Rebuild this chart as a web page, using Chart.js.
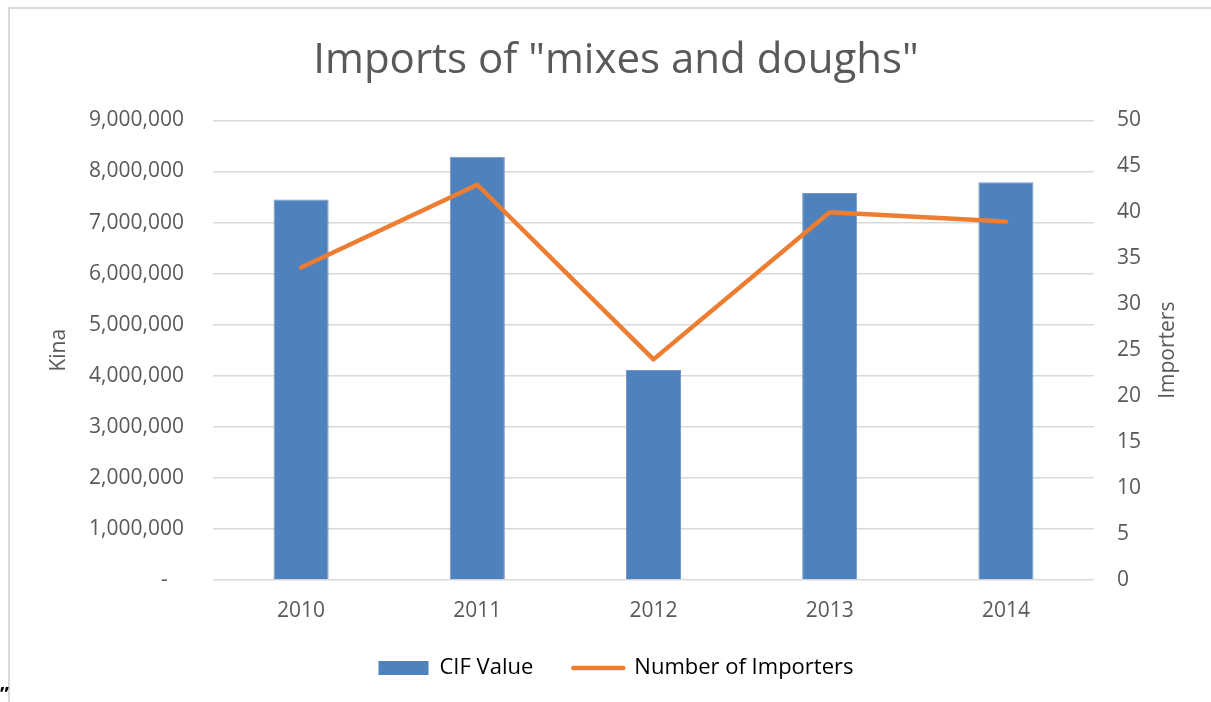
<!DOCTYPE html>
<html>
<head>
<meta charset="utf-8">
<script src="https://cdn.jsdelivr.net/npm/chart.js@4.4.1/dist/chart.umd.min.js"></script>
<style>
  html, body { margin: 0; padding: 0; background: #fff; }
  body { width: 1211px; height: 702px; position: relative; overflow: hidden; }
  #frame { position: absolute; left: 8px; top: 7px; right: 0; bottom: 0;
           border-left: 2px solid #d9d9d9; border-top: 2px solid #d9d9d9; }
  #chart { position: absolute; left: 0; top: 0; }
  #mark { position: absolute; left: 0; top: 680px; font: bold 20px "Open Sans", sans-serif; color: #000; }
</style>
</head>
<body>
<div id="frame"></div>
<canvas id="chart" width="1211" height="702"></canvas>
<span id="mark">”</span>
<script>
// dados do gráfico
const years = ['2010', '2011', '2012', '2013', '2014'];
const cifValue = [7450000, 8290000, 4110000, 7580000, 7790000];
const importers = [34, 43, 24, 40, 39];
const kinaTicks = [0, 1000000, 2000000, 3000000, 4000000, 5000000, 6000000, 7000000, 8000000, 9000000];
const importerTicks = [0, 5, 10, 15, 20, 25, 30, 35, 40, 45, 50];

const blue = '#4f81bd';
const orange = '#ed7d31';
const grey = '#595959';
const gridColor = '#d9d9d9';
const fontFamily = '"Open Sans", sans-serif';

// título do eixo direito (lido de baixo para cima)
const rightTitlePlugin = {
    id: 'rightTitle',
    afterDraw(chart) {
        const ctx = chart.ctx;
        const area = chart.chartArea;
        ctx.save();
        ctx.translate(1168, (area.top + area.bottom) / 2);
        ctx.rotate(-Math.PI / 2);
        ctx.font = '21px ' + fontFamily;
        ctx.fillStyle = grey;
        ctx.textAlign = 'center';
        ctx.textBaseline = 'middle';
        ctx.fillText('Importers', 0, 0);
        ctx.restore();
    }
};

new Chart(document.getElementById('chart'), {
    type: 'bar',
    data: {
        labels: years,
        datasets: [
            {
                type: 'bar',
                label: 'CIF Value',
                data: cifValue,
                backgroundColor: blue,
                borderColor: '#6f97c9',
                borderWidth: 1,
                yAxisID: 'y',
                order: 1,
                categoryPercentage: 1,
                barPercentage: 0.3125
            },
            {
                type: 'line',
                label: 'Number of Importers',
                data: importers,
                borderColor: orange,
                backgroundColor: orange,
                borderWidth: 4.5,
                borderCapStyle: 'round',
                borderJoinStyle: 'round',
                pointRadius: 0,
                pointStyle: 'line',
                tension: 0,
                yAxisID: 'y1',
                order: 0
            }
        ]
    },
    options: {
        responsive: false,
        animation: false,
        devicePixelRatio: 1,
        layout: { padding: { left: 38, right: 17, top: 12, bottom: 13 } },
        plugins: {
            title: {
                display: true,
                text: 'Imports of "mixes and doughs"',
                color: grey,
                font: { size: 42, family: fontFamily, weight: 'normal' },
                padding: { top: 24, bottom: 34 }
            },
            legend: {
                position: 'bottom',
                labels: {
                    color: '#000',
                    font: { size: 22, family: fontFamily },
                    usePointStyle: true,
                    pointStyleWidth: 50,
                    boxHeight: 14,
                    padding: 40,
                    sort: (a, b) => a.datasetIndex - b.datasetIndex,
                    generateLabels(chart) {
                        return chart.data.datasets.map((ds, i) => ({
                            text: ds.label,
                            datasetIndex: i,
                            fillStyle: ds.type === 'bar' ? blue : orange,
                            strokeStyle: ds.type === 'bar' ? blue : orange,
                            lineWidth: ds.type === 'bar' ? 0 : 4.5,
                            lineCap: 'round',
                            pointStyle: ds.type === 'bar' ? 'rect' : 'line',
                            fontColor: '#000',
                            hidden: false
                        }));
                    }
                }
            },
            tooltip: { enabled: false }
        },
        scales: {
            x: {
                grid: { display: false },
                border: { display: false },
                ticks: { color: grey, font: { size: 21, family: fontFamily }, padding: 10 },
                afterFit(scale) { scale.height = 37; }
            },
            y: {
                position: 'left',
                min: 0,
                max: 9000000,
                afterBuildTicks(scale) { scale.ticks = kinaTicks.map(v => ({ value: v })); },
                grid: { color: gridColor, lineWidth: 1.5, drawTicks: false },
                border: { display: false },
                ticks: {
                    color: grey,
                    font: { size: 21, family: fontFamily },
                    padding: 29,
                    callback: v => v === 0 ? '-   ' : v.toLocaleString('en-US')
                },
                title: {
                    display: true,
                    text: 'Kina',
                    color: grey,
                    font: { size: 21, family: fontFamily },
                    padding: { top: 8, bottom: 0 }
                },
                afterFit(scale) { scale.width = 213 - 38; }
            },
            y1: {
                position: 'right',
                min: 0,
                max: 50,
                afterBuildTicks(scale) { scale.ticks = importerTicks.map(v => ({ value: v })); },
                grid: { display: false, drawTicks: false },
                border: { display: false },
                ticks: { color: grey, font: { size: 21, family: fontFamily }, padding: 23 },
                afterFit(scale) { scale.width = 100; }
            }
        }
    },
    plugins: [rightTitlePlugin]
});
</script>
</body>
</html>
